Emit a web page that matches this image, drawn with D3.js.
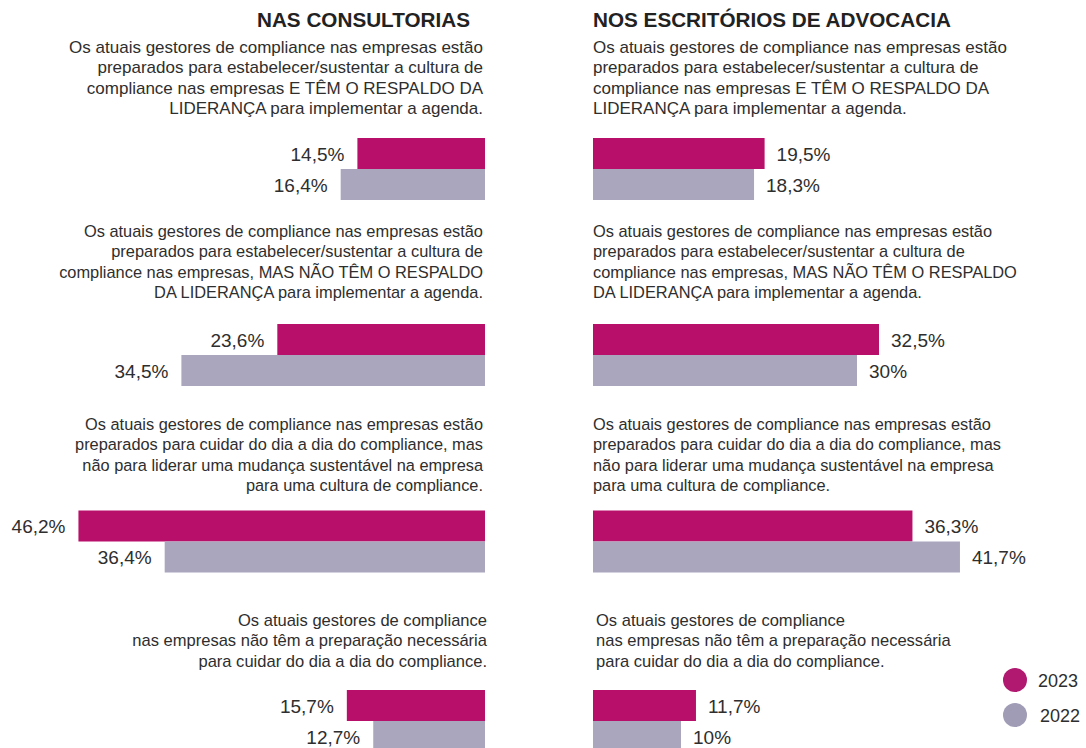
<!DOCTYPE html>
<html>
<head>
<meta charset="utf-8">
<script src="https://cdn.jsdelivr.net/npm/d3@7"></script>
<style>
  body { margin: 0; background: #ffffff; }
  svg { display: block; font-family: "Liberation Sans", Arial, sans-serif; }
</style>
</head>
<body>
<div id="vis"></div>
<script>
// Data
const PANELS = ["NAS CONSULTORIAS", "NOS ESCRITÓRIOS DE ADVOCACIA"];
const YEARS = ["2023", "2022"];
const QUESTIONS = [
  ["Os atuais gestores de compliance nas empresas estão",
   "preparados para estabelecer/sustentar a cultura de",
   "compliance nas empresas E TÊM O RESPALDO DA",
   "LIDERANÇA para implementar a agenda."],
  ["Os atuais gestores de compliance nas empresas estão",
   "preparados para estabelecer/sustentar a cultura de",
   "compliance nas empresas, MAS NÃO TÊM O RESPALDO",
   "DA LIDERANÇA para implementar a agenda."],
  ["Os atuais gestores de compliance nas empresas estão",
   "preparados para cuidar do dia a dia do compliance, mas",
   "não para liderar uma mudança sustentável na empresa",
   "para uma cultura de compliance."],
  ["Os atuais gestores de compliance",
   "nas empresas não têm a preparação necessária",
   "para cuidar do dia a dia do compliance."]
];
const CONSULTORIAS_2023 = [14.5, 23.6, 46.2, 15.7];
const CONSULTORIAS_2022 = [16.4, 34.5, 36.4, 12.7];
const ESCRITORIOS_2023 = [19.5, 32.5, 36.3, 11.7];
const ESCRITORIOS_2022 = [18.3, 30, 41.7, 10];

// Frame and layout constants
const FRAME_WIDTH = 1086;
const FRAME_HEIGHT = 748;
const LEFT_EDGE = 485;   // bars of the left panel grow to the left from here
const RIGHT_EDGE = 593;  // bars of the right panel grow to the right from here
const BAR_H = 31;
const LINE_H = 20.3;
const TEXT_COLOR = "#2e2e2e";
const Q_FONT = [17, 16.4, 16.35, 16.55];  // question text sizes differ a bit per block
const COLORS = {"2023": "#b80f6a", "2022": "#aaa6bd"};
const LEGEND_COLORS = {"2023": "#b0196f", "2022": "#a09cb6"};

const FRAME = d3.select("#vis")
  .append("svg")
    .attr("width", FRAME_WIDTH)
    .attr("height", FRAME_HEIGHT);

// Scales
const X_SCALE = d3.scaleLinear().domain([0, 50]).range([0, 440]);
const BLOCK_Y = d3.scaleOrdinal().domain([0, 1, 2, 3]).range([138, 324, 510.5, 690]);
const TEXT_Y = d3.scaleOrdinal().domain([0, 1, 2, 3]).range([53, 237, 430, 626]);
const YEAR_Y = d3.scaleBand().domain(YEARS).range([0, BAR_H * 2]);

const fmt = (v) => String(v).replace(".", ",") + "%";

// Build rows for both panels
function rows(v2023, v2022) {
  const out = [];
  QUESTIONS.forEach((q, i) => {
    out.push({q: i, year: "2023", value: v2023[i]});
    out.push({q: i, year: "2022", value: v2022[i]});
  });
  return out;
}
const LEFT_DATA = rows(CONSULTORIAS_2023, CONSULTORIAS_2022);
const RIGHT_DATA = rows(ESCRITORIOS_2023, ESCRITORIOS_2022);

// Titles
FRAME.append("text")
  .attr("x", 470).attr("y", 27)
  .attr("text-anchor", "end")
  .attr("font-size", "20.7px").attr("font-weight", "bold")
  .attr("fill", "#222")
  .text(PANELS[0]);

FRAME.append("text")
  .attr("x", RIGHT_EDGE).attr("y", 27)
  .attr("font-size", "20.7px").attr("font-weight", "bold")
  .attr("fill", "#222")
  .text(PANELS[1]);

// Question texts
function drawQuestions(side) {
  const g = FRAME.append("g");
  QUESTIONS.forEach((lines, i) => {
    let x;
    if (side === "left") x = (i === 3) ? LEFT_EDGE + 2 : 483;
    else x = (i === 3) ? RIGHT_EDGE + 3 : RIGHT_EDGE;
    g.append("text")
      .attr("text-anchor", side === "left" ? "end" : "start")
      .attr("font-size", Q_FONT[i] + "px")
      .attr("fill", TEXT_COLOR)
      .selectAll("tspan")
      .data(lines)
      .enter()
      .append("tspan")
        .attr("x", x)
        .attr("y", (d, j) => TEXT_Y(i) + j * LINE_H)
        .text((d) => d);
  });
}
drawQuestions("left");
drawQuestions("right");

// Left panel bars (growing to the left)
FRAME.append("g")
  .selectAll("rect")
  .data(LEFT_DATA)
  .enter()
  .append("rect")
    .attr("x", (d) => LEFT_EDGE - X_SCALE(d.value))
    .attr("y", (d) => BLOCK_Y(d.q) + YEAR_Y(d.year))
    .attr("width", (d) => X_SCALE(d.value))
    .attr("height", YEAR_Y.bandwidth())
    .attr("fill", (d) => COLORS[d.year]);

FRAME.append("g")
  .selectAll("text")
  .data(LEFT_DATA)
  .enter()
  .append("text")
    .attr("x", (d) => LEFT_EDGE - X_SCALE(d.value) - 13)
    .attr("y", (d) => BLOCK_Y(d.q) + YEAR_Y(d.year) + YEAR_Y.bandwidth() / 2 + 7)
    .attr("text-anchor", "end")
    .attr("font-size", "19px")
    .attr("fill", TEXT_COLOR)
    .text((d) => fmt(d.value));

// Right panel bars (growing to the right)
FRAME.append("g")
  .selectAll("rect")
  .data(RIGHT_DATA)
  .enter()
  .append("rect")
    .attr("x", RIGHT_EDGE)
    .attr("y", (d) => BLOCK_Y(d.q) + YEAR_Y(d.year))
    .attr("width", (d) => X_SCALE(d.value))
    .attr("height", YEAR_Y.bandwidth())
    .attr("fill", (d) => COLORS[d.year]);

FRAME.append("g")
  .selectAll("text")
  .data(RIGHT_DATA)
  .enter()
  .append("text")
    .attr("x", (d) => RIGHT_EDGE + X_SCALE(d.value) + 12)
    .attr("y", (d) => BLOCK_Y(d.q) + YEAR_Y(d.year) + YEAR_Y.bandwidth() / 2 + 7)
    .attr("font-size", "19px")
    .attr("fill", TEXT_COLOR)
    .text((d) => fmt(d.value));

// Legend
const LEGEND_Y = d3.scaleOrdinal().domain(YEARS).range([680, 715]);
const legend = FRAME.append("g")
  .selectAll("g")
  .data(YEARS)
  .enter()
  .append("g");

legend.append("circle")
  .attr("cx", 1015)
  .attr("cy", (d) => LEGEND_Y(d))
  .attr("r", 12)
  .attr("fill", (d) => LEGEND_COLORS[d]);

legend.append("text")
  .attr("x", (d) => d === "2023" ? 1038 : 1040)
  .attr("y", (d) => LEGEND_Y(d) + 7)
  .attr("font-size", "18px")
  .attr("fill", TEXT_COLOR)
  .text((d) => d);
</script>
</body>
</html>
